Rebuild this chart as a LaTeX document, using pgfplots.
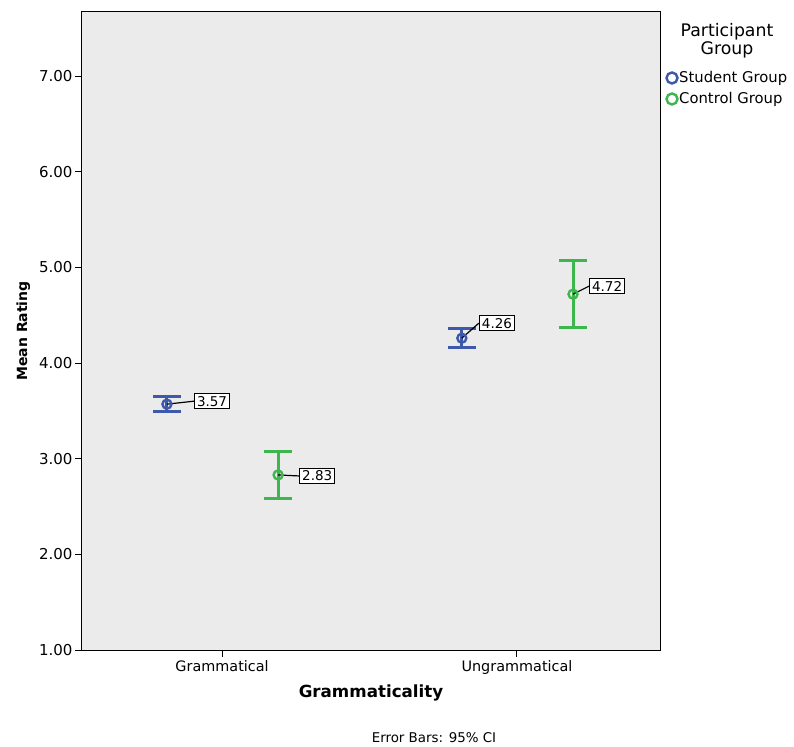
\documentclass[border=0pt]{standalone}
\usepackage{pgfplots}
\pgfplotsset{compat=1.18}
\usepackage{fontspec}
\setmainfont{DejaVu Sans}
\definecolor{sblue}{RGB}{62,88,172}
\definecolor{cgreen}{RGB}{62,182,78}
\definecolor{bg}{RGB}{235,235,235}
\begin{document}
\begin{tikzpicture}[x=1pt,y=1pt]
\begin{axis}[
  name=ax,
  scale only axis,
  width=578pt, height=638pt,
  xmin=-0.475, xmax=1.485,
  ymin=1, ymax=7.67,
  axis background/.style={fill=bg},
  axis line style={black, line width=1pt},
  xtick={0,1},
  xticklabels={Grammatical,Ungrammatical},
  ytick={1,2,3,4,5,6,7},
  /pgf/number format/assume math mode=true,
  tick align=outside,
  major tick length=7pt,
  tick style={black, line width=1pt},
  xtick pos=bottom, ytick pos=left,
  xticklabel style={font=\fontsize{14.4}{16}\selectfont},
  yticklabel style={font=\fontsize{15}{17}\selectfont, xshift=1pt, /pgf/number format/.cd,fixed,fixed zerofill,precision=2},
  xlabel={\textbf{Grammaticality}},
  xlabel style={font=\fontsize{16.7}{19}\selectfont, yshift=-3pt},
  ylabel={\textbf{Mean Rating}},
  ylabel style={font=\fontsize{14}{16}\selectfont, yshift=2pt},
  clip=false,
]
% Student Group
\addplot[sblue, line width=3pt, mark=o, mark size=4.5pt, mark options={line width=2.4pt},
  only marks,
  error bars/.cd, y dir=both, y explicit,
  error mark options={rotate=90, mark size=14pt, line width=3pt},
  error bar style={line width=3pt, sblue}]
  coordinates {
  (-0.187,3.57) +- (0,0.08)
  (0.813,4.26) +- (0,0.10)
  };
% Control Group
\addplot[cgreen, line width=3pt, mark=o, mark size=4.5pt, mark options={line width=2.4pt},
  only marks,
  error bars/.cd, y dir=both, y explicit,
  error mark options={rotate=90, mark size=14pt, line width=3pt},
  error bar style={line width=3pt, cgreen}]
  coordinates {
  (0.190,2.83) +- (0,0.25)
  (1.190,4.72) +- (0,0.35)
  };
% value labels
\tikzset{vlab/.style={draw=black, line width=1.2pt, fill=white, inner sep=2.5pt, anchor=west, font=\fontsize{13.5}{15}\selectfont}}
\node[vlab] (l1) at ([xshift=27pt,yshift=3pt]axis cs:-0.187,3.57) {3.57};
\draw[black, line width=1.2pt] (axis cs:-0.187,3.57) -- (l1.west);
\node[vlab] (l2) at ([xshift=21pt,yshift=-1pt]axis cs:0.190,2.83) {2.83};
\draw[black, line width=1.2pt] (axis cs:0.190,2.83) -- (l2.west);
\node[vlab] (l3) at ([xshift=17pt,yshift=15pt]axis cs:0.813,4.26) {4.26};
\draw[black, line width=1.2pt] (axis cs:0.813,4.26) -- (l3.west);
\node[vlab] (l4) at ([xshift=16pt,yshift=8pt]axis cs:1.190,4.72) {4.72};
\draw[black, line width=1.2pt] (axis cs:1.190,4.72) -- (l4.west);
\end{axis}
% legend
\node[font=\fontsize{17.3}{18}\selectfont, align=center, anchor=north] at ([xshift=67pt,yshift=-8pt]ax.north east) {Participant\\Group};
\draw[sblue, line width=2.4pt] ([xshift=12pt,yshift=-66pt]ax.north east) circle (5.5pt);
\node[font=\fontsize{14.8}{16}\selectfont, anchor=west, inner sep=0pt] at ([xshift=19pt,yshift=-66pt]ax.north east) {Student Group};
\draw[cgreen, line width=2.4pt] ([xshift=12pt,yshift=-87pt]ax.north east) circle (5.5pt);
\node[font=\fontsize{14.8}{16}\selectfont, anchor=west, inner sep=0pt] at ([xshift=19pt,yshift=-87pt]ax.north east) {Control Group};
% footnote
\node[font=\fontsize{13.4}{15}\selectfont, anchor=center] at ([xshift=352pt,yshift=-88pt]ax.south west) {Error Bars: 95\% CI};
% bounding box
\path ([xshift=-82pt,yshift=-96pt]ax.south west) rectangle ++(794pt,746pt);
\end{tikzpicture}
\end{document}
